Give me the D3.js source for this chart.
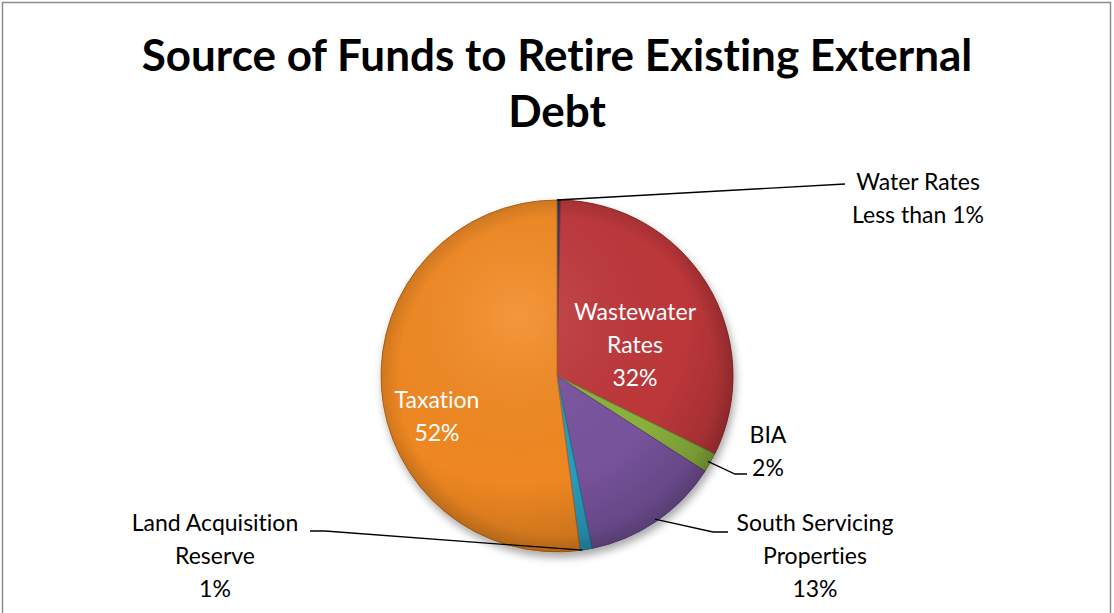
<!DOCTYPE html>
<html>
<head>
<meta charset="utf-8">
<script src="https://cdn.jsdelivr.net/npm/d3@7"></script>
<style>
  html, body { margin: 0; padding: 0; background: #fff; }
  svg text { font-family: Lato, "DejaVu Sans", sans-serif; font-variant-ligatures: none; font-feature-settings: "liga" 0, "clig" 0; }
</style>
</head>
<body>
<div id="holder"></div>
<script>
const width = 1114;
const height = 613;

// data (clockwise from 12 o'clock)
const categories = ["Water Rates", "Wastewater Rates", "BIA", "South Servicing Properties", "Land Acquisition Reserve", "Taxation"];
const values = [0.3, 32.0, 1.8, 12.7, 1.1, 52.1];
const pctLabels = ["Less than 1%", "32%", "2%", "13%", "1%", "52%"];
const colors = ["#1f3f6e", "#c0393b", "#8db43e", "#7a55a0", "#2b9fc1", "#f38a22"];

// label text lines
const labelLines = [
    ["Water Rates", pctLabels[0]],
    ["Wastewater", "Rates", pctLabels[1]],
    ["BIA", pctLabels[2]],
    ["South Servicing", "Properties", pctLabels[3]],
    ["Land Acquisition", "Reserve", pctLabels[4]],
    ["Taxation", pctLabels[5]]
];
const labelPos = [[918, 190], [635, 320], [768, 443], [815, 531], [215, 531], [437, 408]];
const inside = [false, true, false, false, false, true];
// leader line bends, from slice edge to label
const leaderEnd = [[[845, 184]], null, [[735, 474], [747, 474]], [[713, 532], [728, 532]], [[325, 531], [310, 531]], null];

const cx = 557, cy = 376, radius = 176;

const svg = d3.select("#holder")
    .append("svg")
    .attr("width", width)
    .attr("height", height);

const defs = svg.append("defs");

const shade = defs.append("radialGradient")
    .attr("id", "shade")
    .attr("gradientUnits", "userSpaceOnUse")
    .attr("cx", -40).attr("cy", -60).attr("r", radius * 1.35);
shade.append("stop").attr("offset", "0%").attr("stop-color", "#fff").attr("stop-opacity", 0.12);
shade.append("stop").attr("offset", "70%").attr("stop-color", "#000").attr("stop-opacity", 0.02);
shade.append("stop").attr("offset", "100%").attr("stop-color", "#000").attr("stop-opacity", 0.18);

const rim = defs.append("radialGradient")
    .attr("id", "rim")
    .attr("gradientUnits", "userSpaceOnUse")
    .attr("cx", 0).attr("cy", 0).attr("r", radius);
rim.append("stop").attr("offset", "90%").attr("stop-color", "#000").attr("stop-opacity", 0);
rim.append("stop").attr("offset", "100%").attr("stop-color", "#000").attr("stop-opacity", 0.12);

const shadow = defs.append("filter").attr("id", "shadow")
    .attr("x", "-20%").attr("y", "-20%").attr("width", "140%").attr("height", "140%");
shadow.append("feGaussianBlur").attr("in", "SourceAlpha").attr("stdDeviation", 4);
shadow.append("feOffset").attr("dx", 2).attr("dy", 5).attr("result", "off");
shadow.append("feComponentTransfer").append("feFuncA").attr("type", "linear").attr("slope", 0.35);
const merge = shadow.append("feMerge");
merge.append("feMergeNode");
merge.append("feMergeNode").attr("in", "SourceGraphic");

// frame
svg.append("rect")
    .attr("x", 2.5).attr("y", 2.5)
    .attr("width", 1108).attr("height", 640)
    .attr("fill", "none")
    .attr("stroke", "#8c8c8c")
    .attr("stroke-width", 1.5);

// title
const title = svg.append("text")
    .attr("text-anchor", "middle")
    .style("font-weight", "bold")
    .style("font-size", "44px")
    .attr("fill", "#000");
title.append("tspan").attr("x", 557).attr("y", 71).text("Source of Funds to Retire Existing External");
title.append("tspan").attr("x", 557).attr("y", 127).text("Debt");

const data = categories.map((c, i) => ({ name: c, value: values[i], i: i }));

const pie = d3.pie()
    .sort(null)
    .value(d => d.value);

const arc = d3.arc()
    .innerRadius(0)
    .outerRadius(radius);

const arcs = pie(data);

const g = svg.append("g")
    .attr("transform", `translate(${cx}, ${cy})`);

const slices = g.append("g").attr("filter", "url(#shadow)");

slices.selectAll("path.slice")
    .data(arcs)
    .enter()
    .append("path")
    .attr("class", "slice")
    .attr("d", arc)
    .attr("fill", d => colors[d.data.i])
    .attr("stroke", d => d3.color(colors[d.data.i]).darker(0.8))
    .attr("stroke-width", 1);

// soft shading overlays
g.selectAll("path.overlay")
    .data(arcs)
    .enter()
    .append("path")
    .attr("class", "overlay")
    .attr("d", arc)
    .attr("fill", "url(#shade)");

g.selectAll("path.rim")
    .data(arcs)
    .enter()
    .append("path")
    .attr("class", "rim")
    .attr("d", arc)
    .attr("fill", "url(#rim)");

// leader lines
const outerArc = d3.arc().innerRadius(radius).outerRadius(radius);
arcs.forEach((d, k) => {
    const e = leaderEnd[k];
    if (!e) return;
    let start;
    if (k === 0) {
        start = [cx, cy - radius];
    } else if (k === 4) {
        start = [cx + Math.sin(d.endAngle - 0.012) * radius, cy - Math.cos(d.endAngle - 0.012) * radius];
    } else {
        const c = outerArc.centroid(d);
        start = [cx + c[0] * 0.985, cy + c[1] * 0.985];
    }
    svg.append("path")
        .attr("d", d3.line()([start].concat(e)))
        .attr("fill", "none")
        .attr("stroke", "#000")
        .attr("stroke-width", 1.3);
});

// labels
labelLines.forEach((lines, k) => {
    const t = svg.append("text")
        .attr("text-anchor", "middle")
        .style("font-size", "23px")
        .attr("fill", inside[k] ? "#fff" : "#000");
    lines.forEach((line, j) => {
        t.append("tspan")
            .attr("x", labelPos[k][0])
            .attr("y", labelPos[k][1] + j * 33)
            .text(line);
    });
});
</script>
</body>
</html>
